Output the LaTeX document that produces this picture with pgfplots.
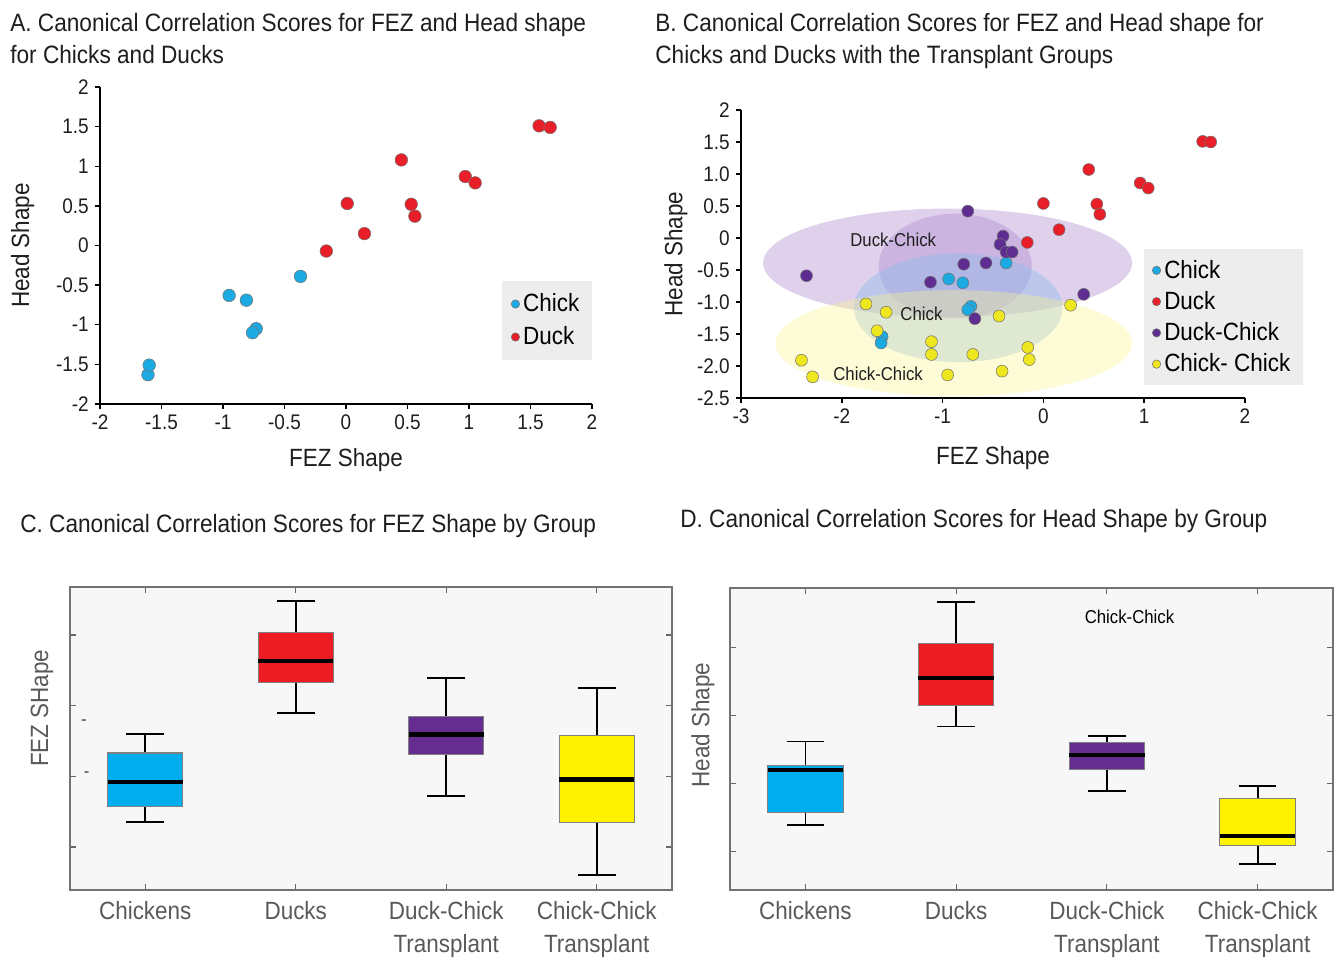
\documentclass[border=0pt]{standalone}
\usepackage{fontspec}
\setmainfont{Liberation Sans}[FakeStretch=0.9]
\usepackage{pgfplots}
\pgfplotsset{compat=1.18}
\usepgfplotslibrary{statistics}

\definecolor{chick}{RGB}{28,170,226}
\definecolor{duck}{RGB}{232,30,40}
\definecolor{dchick}{RGB}{95,45,145}
\definecolor{cchick}{RGB}{238,230,30}
\definecolor{boxcyan}{RGB}{0,174,239}
\definecolor{boxred}{RGB}{237,28,36}
\definecolor{boxpurple}{RGB}{102,45,145}
\definecolor{boxyellow}{RGB}{255,242,0}
\definecolor{txt}{RGB}{30,30,30}
\definecolor{ellpurple}{RGB}{170,135,205}
\definecolor{ellblue}{RGB}{140,185,235}
\definecolor{ellyellow}{RGB}{250,245,140}

\newcommand{\tfont}{\fontsize{14.3pt}{17pt}\selectfont}
\newcommand{\lfont}{\fontsize{14.2pt}{17pt}\selectfont}
\newcommand{\cfont}{\fontsize{14.2pt}{19pt}\selectfont}
\newcommand{\kfont}{\fontsize{12pt}{14pt}\selectfont}
\newcommand{\sfont}{\fontsize{10.6pt}{12pt}\selectfont}

\begin{document}
\begin{tikzpicture}
\useasboundingbox (0,0) rectangle (26.8cm,19.16cm);

% === titles ===
\node[anchor=base west, font=\tfont, text=txt, inner sep=0pt] at (0.2cm,18.52cm) {A. Canonical Correlation Scores for FEZ and Head shape};
\node[anchor=base west, font=\tfont, text=txt, inner sep=0pt] at (0.2cm,17.88cm) {for Chicks and Ducks};
\node[anchor=base west, font=\tfont, text=txt, inner sep=0pt] at (13.1cm,18.52cm) {B. Canonical Correlation Scores for FEZ and Head shape for};
\node[anchor=base west, font=\tfont, text=txt, inner sep=0pt] at (13.1cm,17.88cm) {Chicks and Ducks with the Transplant Groups};
\node[anchor=base west, font=\tfont, text=txt, inner sep=0pt] at (0.4cm,8.5cm) {C. Canonical Correlation Scores for FEZ Shape by Group};
\node[anchor=base west, font=\tfont, text=txt, inner sep=0pt] at (13.6cm,8.6cm) {D. Canonical Correlation Scores for Head Shape by Group};

% === A: chicks and ducks ===
\begin{axis}[
    at={(2.0cm,11.08cm)}, anchor=south west,
    scale only axis, width=9.84cm, height=6.34cm,
    xmin=-2, xmax=2, ymin=-2, ymax=2,
    axis lines=left, axis line style={-, line width=0.9pt},
    tick align=outside, major tick length=0.1cm,
    tick style={black, line width=0.8pt},
    xtick={-2,-1.5,-1,-0.5,0,0.5,1,1.5,2},
    xticklabels={-2,-1.5,-1,-0.5,0,0.5,1,1.5,2},
    ytick={-2,-1.5,-1,-0.5,0,0.5,1,1.5,2},
    yticklabels={-2,-1.5,-1,-0.5,0,0.5,1,1.5,2},
    tick label style={font=\kfont, text=txt},
    xlabel={FEZ Shape}, ylabel={Head Shape},
    label style={font=\lfont, text=txt},
    xlabel style={at={(axis description cs:0.5,-0.177)}, anchor=center},
    ylabel style={at={(axis description cs:-0.157,0.5)}, anchor=center},
    legend style={at={(1,0.388)}, anchor=north east, fill=black!7, draw=none,
        font=\lfont, inner xsep=5pt, inner ysep=5pt, row sep=3pt},
    legend cell align=left,
    legend image code/.code={\draw[#1, mark size=2.4pt] plot coordinates {(0.12cm,0cm)};},
    clip=false,
]
\addplot[only marks, mark=*, mark size=3.6pt, mark options={fill=chick, draw=black!55, line width=0.3pt}] coordinates {
    (-1.61,-1.63) (-1.60,-1.51) (-0.95,-0.63) (-0.81,-0.69)
    (-0.73,-1.05) (-0.76,-1.10) (-0.37,-0.39)
};
\addplot[only marks, mark=*, mark size=3.6pt, mark options={fill=duck, draw=black!55, line width=0.3pt}] coordinates {
    (-0.16,-0.07) (0.01,0.53) (0.15,0.15) (0.45,1.08) (0.53,0.52)
    (0.56,0.37) (0.97,0.87) (1.05,0.79) (1.57,1.51) (1.66,1.49)
};
\legend{Chick,Duck}
\end{axis}

% === B: with transplant groups ===
\begin{axis}[
    at={(14.82cm,11.2cm)}, anchor=south west,
    scale only axis, width=10.08cm, height=5.76cm,
    xmin=-3, xmax=2, ymin=-2.5, ymax=2,
    axis lines=left, axis line style={-, line width=0.9pt},
    tick align=outside, major tick length=0.1cm,
    tick style={black, line width=0.8pt},
    xtick={-3,-2,-1,0,1,2},
    xticklabels={-3,-2,-1,0,1,2},
    ytick={-2.5,-2,-1.5,-1,-0.5,0,0.5,1,1.5,2},
    yticklabels={-2.5,-2.0,-1.5,-1.0,-0.5,0,0.5,1.0,1.5,2},
    tick label style={font=\kfont, text=txt},
    xlabel={FEZ Shape}, ylabel={Head Shape},
    label style={font=\lfont, text=txt},
    xlabel style={at={(axis description cs:0.5,-0.208)}, anchor=center},
    ylabel style={at={(axis description cs:-0.129,0.5)}, anchor=center},
    legend style={at={(0.798,0.517)}, anchor=north west, fill=black!7, draw=none,
        font=\lfont, inner xsep=5pt, inner ysep=4pt, row sep=2pt},
    legend cell align=left,
    legend image code/.code={\draw[#1, mark size=2.4pt] plot coordinates {(0.12cm,0cm)};},
    clip=false,
]
\addplot[only marks, mark=*, mark size=3.4pt, mark options={fill=chick, draw=black!55, line width=0.3pt}] coordinates {
    (-0.37,-0.39) (-0.94,-0.64) (-0.80,-0.70) (-0.72,-1.07)
    (-0.75,-1.12) (-1.60,-1.54) (-1.61,-1.64)
};
\addplot[only marks, mark=*, mark size=3.4pt, mark options={fill=duck, draw=black!55, line width=0.3pt}] coordinates {
    (1.58,1.51) (1.66,1.50) (0.45,1.07) (0.96,0.86) (1.04,0.78)
    (0.0,0.54) (0.53,0.53) (0.56,0.37) (0.155,0.13) (-0.16,-0.07)
};
\addplot[only marks, mark=*, mark size=3.4pt, mark options={fill=dchick, draw=black!55, line width=0.3pt}] coordinates {
    (-0.75,0.42) (-0.40,0.03) (-0.43,-0.10) (-0.37,-0.22) (-0.31,-0.22)
    (-0.79,-0.41) (-0.57,-0.39) (-1.12,-0.69) (-2.35,-0.59) (0.40,-0.88)
    (-0.68,-1.26)
};
\addplot[only marks, mark=*, mark size=3.4pt, mark options={fill=cchick, draw=black!55, line width=0.3pt}] coordinates {
    (-1.76,-1.03) (-1.56,-1.16) (0.27,-1.05) (-0.44,-1.22) (-1.65,-1.45)
    (-1.11,-1.62) (-1.11,-1.82) (-0.70,-1.82) (-0.155,-1.71) (-0.14,-1.90)
    (-2.40,-1.91) (-2.29,-2.17) (-0.95,-2.14) (-0.41,-2.08)
};
\legend{Chick,Duck,Duck-Chick,Chick- Chick}
% group ellipses
\fill[ellpurple, fill opacity=0.38] (axis cs:-0.95,-0.39) ellipse [x radius=1.83, y radius=0.85];
\fill[ellpurple, fill opacity=0.38] (axis cs:-0.875,-0.44) ellipse [x radius=0.76, y radius=0.82];
\fill[ellblue, fill opacity=0.4] (axis cs:-0.845,-1.09) ellipse [x radius=1.035, y radius=0.85];
\fill[ellyellow, fill opacity=0.35] (axis cs:-0.89,-1.645) ellipse [x radius=1.77, y radius=0.83];
\node[font=\sfont, text=txt] at (axis cs:-1.49,-0.03) {Duck-Chick};
\node[font=\sfont, text=txt] at (axis cs:-1.21,-1.19) {Chick};
\node[font=\sfont, text=txt] at (axis cs:-1.64,-2.13) {Chick-Chick};
\end{axis}

% === C: FEZ shape by group ===
\begin{axis}[
    at={(1.4cm,1.36cm)}, anchor=south west,
    scale only axis, width=12.04cm, height=6.06cm,
    xmin=0.5, xmax=4.5, ymin=-0.61, ymax=3.68,
    axis background/.style={fill=black!3},
    axis line style={draw=black!55, line width=0.9pt},
    tick align=inside, major tick length=0.12cm,
    tick style={black!60, line width=0.7pt},
    xtick={1,2,3,4}, ytick={0,1,2,3}, yticklabels={},
    xticklabels={Chickens,Ducks,Duck-Chick\\Transplant,Chick-Chick\\Transplant},
    xticklabel style={font=\cfont, text=black!65, align=center, yshift=-3pt},
    ylabel={FEZ SHape},
    ylabel style={font=\lfont, text=black!65, at={(axis description cs:-0.0465,0.6)}, anchor=center},
    boxplot/draw direction=y,
    boxplot/every median/.style={draw=black, line width=2.6pt},
    boxplot/every whisker/.style={draw=black, line width=1pt},
    boxplot/every box/.style={draw=black!50, line width=0.6pt},
]
\addplot[fill=boxcyan, boxplot prepared={draw position=1, lower whisker=0.354, lower quartile=0.566, median=0.92, upper quartile=1.33, upper whisker=1.594, box extend=0.5, whisker extend=0.25}] coordinates {};
\addplot[fill=boxred, boxplot prepared={draw position=2, lower whisker=1.90, lower quartile=2.33, median=2.63, upper quartile=3.04, upper whisker=3.48, box extend=0.5, whisker extend=0.25}] coordinates {};
\addplot[fill=boxpurple, boxplot prepared={draw position=3, lower whisker=0.717, lower quartile=1.31, median=1.59, upper quartile=1.85, upper whisker=2.39, box extend=0.5, whisker extend=0.25}] coordinates {};
\addplot[fill=boxyellow, boxplot prepared={draw position=4, lower whisker=-0.40, lower quartile=0.344, median=0.958, upper quartile=1.58, upper whisker=2.255, box extend=0.5, whisker extend=0.25}] coordinates {};
% stray dashes left of the frame
\node[font=\sfont, text=black!70, inner sep=0pt] at (axis cs:0.593,1.754) {-};
\node[font=\sfont, text=black!70, inner sep=0pt] at (axis cs:0.61,1.018) {-};
\end{axis}

% === D: head shape by group ===
\begin{axis}[
    at={(14.6cm,1.36cm)}, anchor=south west,
    scale only axis, width=12.06cm, height=6.04cm,
    xmin=0.5, xmax=4.5, ymin=-0.56, ymax=3.87,
    axis background/.style={fill=black!3},
    axis line style={draw=black!55, line width=0.9pt},
    tick align=inside, major tick length=0.12cm,
    tick style={black!60, line width=0.7pt},
    xtick={1,2,3,4}, ytick={0,1,2,3}, yticklabels={},
    xticklabels={Chickens,Ducks,Duck-Chick\\Transplant,Chick-Chick\\Transplant},
    xticklabel style={font=\cfont, text=black!65, align=center, yshift=-3pt},
    ylabel={Head Shape},
    ylabel style={font=\lfont, text=black!65, at={(axis description cs:-0.045,0.546)}, anchor=center},
    boxplot/draw direction=y,
    boxplot/every median/.style={draw=black, line width=2.6pt},
    boxplot/every whisker/.style={draw=black, line width=1pt},
    boxplot/every box/.style={draw=black!50, line width=0.6pt},
]
\addplot[fill=boxcyan, boxplot prepared={draw position=1, lower whisker=0.39, lower quartile=0.576, median=1.20, upper quartile=1.27, upper whisker=1.62, box extend=0.5, whisker extend=0.25}] coordinates {};
\addplot[fill=boxred, boxplot prepared={draw position=2, lower whisker=1.84, lower quartile=2.15, median=2.55, upper quartile=3.05, upper whisker=3.66, box extend=0.5, whisker extend=0.25}] coordinates {};
\addplot[fill=boxpurple, boxplot prepared={draw position=3, lower whisker=0.89, lower quartile=1.21, median=1.42, upper quartile=1.61, upper whisker=1.70, box extend=0.5, whisker extend=0.25}] coordinates {};
\addplot[fill=boxyellow, boxplot prepared={draw position=4, lower whisker=-0.18, lower quartile=0.088, median=0.234, upper quartile=0.78, upper whisker=0.966, box extend=0.5, whisker extend=0.25}] coordinates {};
\node[font=\sfont, text=black] at (axis cs:3.15,3.44) {Chick-Chick};
\end{axis}
\end{tikzpicture}
\end{document}
